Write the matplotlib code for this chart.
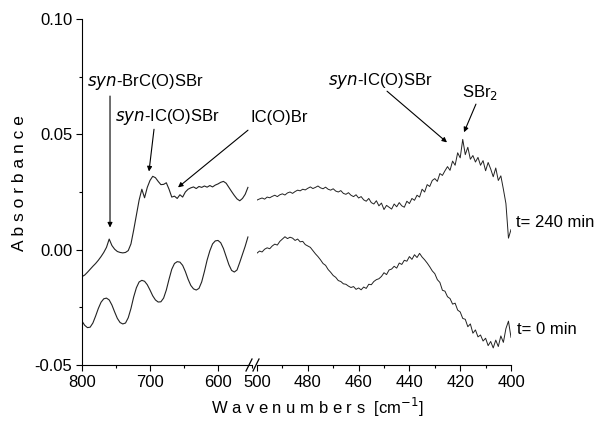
import matplotlib
matplotlib.use("Agg")
import matplotlib.pyplot as plt
from matplotlib.ticker import MultipleLocator, FormatStrFormatter

plt.rcParams['font.family'] = ['Liberation Sans', 'DejaVu Sans']

# ---------------- data ----------------
wn_left = list(range(800, 555, -4))
t240_left = [-0.0117, -0.0110, -0.0098, -0.0085, -0.0072, -0.0060, -0.0046, -0.0030,
             -0.0012, 0.0010, 0.0046, 0.0018, 0.0002, -0.0008, -0.0012, -0.0014,
             -0.0012, -0.0004, 0.0025, 0.0085, 0.0150, 0.0215, 0.0262, 0.0225,
             0.0270, 0.0300, 0.0318, 0.0312, 0.0296, 0.0282, 0.0283, 0.0290,
             0.0262, 0.0228, 0.0232, 0.0222, 0.0238, 0.0228, 0.0250, 0.0262,
             0.0268, 0.0272, 0.0265, 0.0274, 0.0270, 0.0276, 0.0271, 0.0278,
             0.0272, 0.0280, 0.0285, 0.0292, 0.0296, 0.0288, 0.0270, 0.0252,
             0.0235, 0.0220, 0.0212, 0.0222, 0.0240, 0.0270]
t0_left = [-0.0310, -0.0328, -0.0338, -0.0336, -0.0318, -0.0288, -0.0255, -0.0228,
           -0.0213, -0.0210, -0.0218, -0.0240, -0.0270, -0.0298, -0.0316, -0.0322,
           -0.0318, -0.0295, -0.0255, -0.0205, -0.0165, -0.0140, -0.0133, -0.0137,
           -0.0152, -0.0175, -0.0200, -0.0218, -0.0227, -0.0226, -0.0210, -0.0175,
           -0.0128, -0.0085, -0.0060, -0.0052, -0.0054, -0.0068, -0.0095, -0.0128,
           -0.0155, -0.0170, -0.0175, -0.0168, -0.0140, -0.0095, -0.0045, -0.0005,
           0.0025, 0.0038, 0.0040, 0.0030, 0.0005, -0.0030, -0.0065, -0.0090,
           -0.0097, -0.0088, -0.0055, -0.0020, 0.0015, 0.0055]

wn_right = list(range(500, 399, -1))
t240_right = [0.0215, 0.0220, 0.0224, 0.0219, 0.0228, 0.0225, 0.0231, 0.0236, 0.0230, 0.0238,
              0.0242, 0.0237, 0.0246, 0.0250, 0.0244, 0.0252, 0.0258, 0.0255, 0.0262, 0.0259,
              0.0266, 0.0272, 0.0265, 0.0270, 0.0276, 0.0268, 0.0264, 0.0271, 0.0262, 0.0258,
              0.0264, 0.0254, 0.0250, 0.0256, 0.0244, 0.0240, 0.0247, 0.0236, 0.0230, 0.0238,
              0.0224, 0.0230, 0.0216, 0.0210, 0.0222, 0.0204, 0.0198, 0.0212, 0.0190, 0.0202,
              0.0174, 0.0192, 0.0184, 0.0176, 0.0198, 0.0186, 0.0204, 0.0190, 0.0184, 0.0210,
              0.0200, 0.0222, 0.0214, 0.0236, 0.0228, 0.0262, 0.0250, 0.0282, 0.0274, 0.0300,
              0.0308, 0.0296, 0.0330, 0.0322, 0.0342, 0.0360, 0.0344, 0.0384, 0.0366, 0.0420,
              0.0398, 0.0478, 0.0412, 0.0444, 0.0392, 0.0408, 0.0380, 0.0400, 0.0366, 0.0386,
              0.0342, 0.0378, 0.0350, 0.0316, 0.0354, 0.0300, 0.0320, 0.0262, 0.0200, 0.0050,
              0.0087]
t0_right = [-0.0015, -0.0006, -0.0010, 0.0002, 0.0008, 0.0004, 0.0016, 0.0024, 0.0020, 0.0036,
            0.0046, 0.0056, 0.0048, 0.0054, 0.0050, 0.0040, 0.0046, 0.0034, 0.0036, 0.0022,
            0.0016, 0.0010, -0.0004, -0.0018, -0.0030, -0.0044, -0.0060, -0.0068, -0.0086, -0.0098,
            -0.0112, -0.0120, -0.0134, -0.0138, -0.0148, -0.0150, -0.0158, -0.0164, -0.0160, -0.0172,
            -0.0166, -0.0174, -0.0162, -0.0168, -0.0150, -0.0152, -0.0138, -0.0130, -0.0126, -0.0116,
            -0.0100, -0.0108, -0.0088, -0.0084, -0.0072, -0.0080, -0.0058, -0.0064, -0.0046, -0.0050,
            -0.0030, -0.0042, -0.0022, -0.0034, -0.0016, -0.0032, -0.0044, -0.0058, -0.0074, -0.0092,
            -0.0104, -0.0130, -0.0142, -0.0176, -0.0180, -0.0204, -0.0212, -0.0236, -0.0232, -0.0262,
            -0.0270, -0.0298, -0.0302, -0.0334, -0.0322, -0.0362, -0.0348, -0.0378, -0.0370, -0.0396,
            -0.0384, -0.0416, -0.0398, -0.0426, -0.0392, -0.0420, -0.0374, -0.0402, -0.0342, -0.0310,
            -0.0380]

# ---------------- figure ----------------
W, H = 594, 423
fig = plt.figure(figsize=(W / 100, H / 100), dpi=100)
bottom = 1 - 365 / H
height = (365 - 19) / H
axL = fig.add_axes([82 / W, bottom, 170 / W, height])
axR = fig.add_axes([257 / W, bottom, 254 / W, height], sharey=axL)

lc = '#222222'
axL.plot(wn_left, t240_left, color=lc, lw=0.8)
axL.plot(wn_left, t0_left, color=lc, lw=0.8)
axR.plot(wn_right, t240_right, color=lc, lw=0.7)
axR.plot(wn_right, t0_right, color=lc, lw=0.7)

axL.set_xlim(800, 550)
axR.set_xlim(500, 400)
axL.set_ylim(-0.05, 0.10)

for ax in (axL, axR):
    ax.spines['top'].set_visible(False)
    ax.spines['right'].set_visible(False)
    ax.tick_params(which='major', direction='out', length=4, width=0.8, labelsize=12, pad=3)
    ax.tick_params(which='minor', direction='out', length=2.5, width=0.8)
    ax.patch.set_alpha(0)
axR.spines['left'].set_visible(False)
axR.tick_params(axis='y', which='both', left=False, labelleft=False)

axL.xaxis.set_minor_locator(MultipleLocator(50))
axR.xaxis.set_minor_locator(MultipleLocator(10))
axR.set_xticks([500, 480, 460, 440, 420, 400])
axL.set_xticks([800, 700, 600])
axL.yaxis.set_major_locator(MultipleLocator(0.05))
axL.yaxis.set_minor_locator(MultipleLocator(0.025))
axL.yaxis.set_major_formatter(FormatStrFormatter('%.2f'))
axL.xaxis.set_major_formatter(FormatStrFormatter('%d'))
axR.xaxis.set_major_formatter(FormatStrFormatter('%d'))

# break marks
for xp in (249, 256):
    fig.add_artist(plt.Line2D([(xp - 3) / W, (xp + 3) / W], [1 - 371 / H, 1 - 359 / H],
                              color='black', lw=0.9, transform=fig.transFigure))

# axis labels
fig.text(20 / W, 1 - 183 / H, "A b s o r b a n c e", rotation=90, ha='center', va='center',
         fontsize=12.5)
fig.text(317 / W, 1 - 407 / H, "W a v e n u m b e r s  [cm$^{-1}$]", ha='center', va='center',
         fontsize=12)

ap = dict(arrowstyle='-|>', lw=0.8, color='black', mutation_scale=7, shrinkA=0, shrinkB=0)
fs = 12
axL.annotate("", xy=(758.8, 0.0096), xytext=(758.8, 0.0666), arrowprops=ap)
axL.text(707.4, 0.0726, "$\\it{syn}$-BrC(O)SBr", ha='center', va='center', fontsize=fs)
axL.annotate("", xy=(701.5, 0.0339), xytext=(694.1, 0.0522), arrowprops=ap)
axL.text(674.3, 0.0574, "$\\it{syn}$-IC(O)SBr", ha='center', va='center', fontsize=fs)
axL.annotate("", xy=(658.8, 0.0270), xytext=(555.9, 0.0518), arrowprops=ap, annotation_clip=False)
axL.text(552.9, 0.0574, "IC(O)Br", ha='left', va='center', fontsize=fs, clip_on=False)

axR.annotate("", xy=(425.2, 0.0465), xytext=(448.8, 0.0687), arrowprops=ap)
axR.text(451.4, 0.0731, "$\\it{syn}$-IC(O)SBr", ha='center', va='center', fontsize=fs)
axR.annotate("", xy=(418.5, 0.0509), xytext=(413.8, 0.0631), arrowprops=ap)
axR.text(412.2, 0.0683, "SBr$_2$", ha='center', va='center', fontsize=fs)
axR.text(398.0, 0.0117, "t= 240 min", ha='left', va='center', fontsize=fs, clip_on=False)
axR.text(397.6, -0.0348, "t= 0 min", ha='left', va='center', fontsize=fs, clip_on=False)

fig.savefig("out.png", dpi=100, facecolor='white')
